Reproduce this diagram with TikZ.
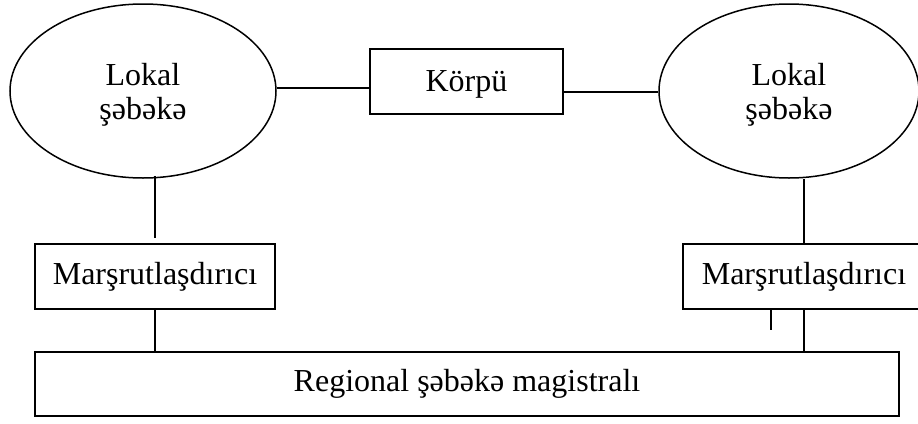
\documentclass[tikz,border=0pt]{standalone}
\usepackage{fontspec}
\setmainfont{Liberation Serif}
\usetikzlibrary{shapes.geometric}

\tikzset{
  shape line/.style={draw=black, line width=1.5pt},
  netblob/.style={shape line, ellipse, inner sep=0pt, align=center,
    text depth=0pt, font=\fontsize{32}{34}\selectfont},
  unitbox/.style={shape line, rectangle, inner sep=0pt},
  wire/.style={draw=black, line width=1.3pt},
}

\begin{document}
\begin{tikzpicture}[x=1pt, y=-1pt, font=\fontsize{32}{34}\selectfont]
  \useasboundingbox (0,0) rectangle (918,423);
  \clip (0,0) rectangle (918,423);

  % local networks
  \node[netblob, minimum width=266pt, minimum height=174pt] (lanA) at (143,91)
    {Lokal\\şəbəkə};
  \node[netblob, minimum width=260pt, minimum height=174pt] (lanB) at (789,91)
    {Lokal\\şəbəkə};

  % bridge between them
  \node[unitbox, text depth=0pt, minimum width=193pt, minimum height=65pt]
    (bridge) at (466.5,81.5) {Körpü};

  % routers
  \node[unitbox, minimum width=240pt, minimum height=65pt] (rtA) at (155,276.5) {Marşrutlaşdırıcı};
  \node[unitbox, minimum width=242pt, minimum height=65pt] (rtB) at (804,276.5) {Marşrutlaşdırıcı};

  % regional backbone
  \node[unitbox, minimum width=864pt, minimum height=64pt] (backbone) at (467,384)
    {Regional şəbəkə magistralı};

  % links
  \draw[wire] ([yshift=3pt]lanA.east) -- ([yshift=-6.5pt]bridge.west);
  \draw[wire] ([yshift=-10.5pt]bridge.east) -- ([yshift=-1pt]lanB.west);
  \draw[wire] ([xshift=12pt,yshift=3pt]lanA.south) -- ([yshift=5pt]rtA.north);
  \draw[wire] (rtB.north) -- (rtB.north |- lanB.south);
  \draw[wire] (rtA.south) -- (rtA.south |- backbone.north);
  \draw[wire] (rtB.south) -- (rtB.south |- backbone.north);
  \coordinate (stub) at ([xshift=-33pt,yshift=-20pt]rtB.south);
  \draw[wire] ([xshift=-33pt]rtB.south) -- (stub);
\end{tikzpicture}
\end{document}
